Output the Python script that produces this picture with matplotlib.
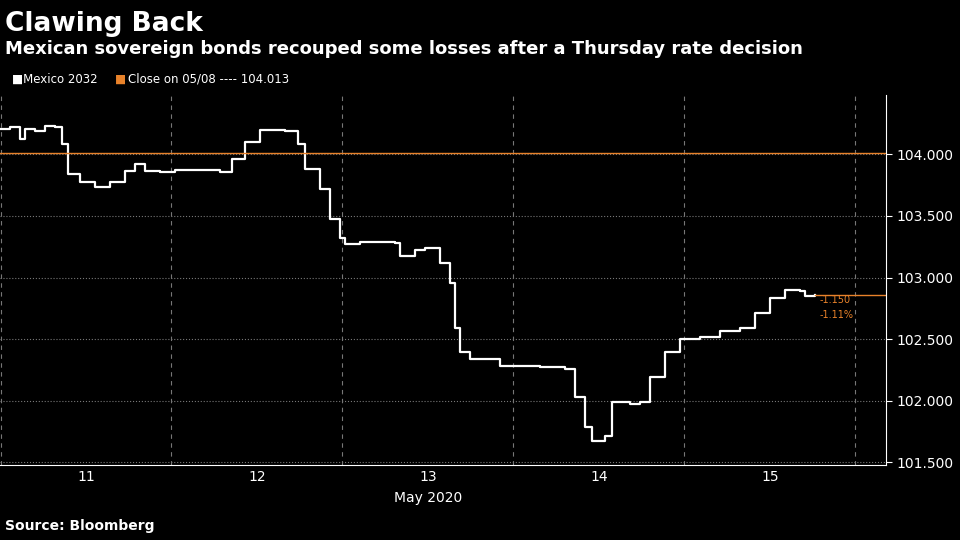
import matplotlib
matplotlib.use("Agg")
import matplotlib.pyplot as plt

# pixel-estimated trace -> converted to (day, price)
px = [0,10,20,25,35,45,55,62,68,80,95,110,125,135,145,160,175,200,220,232,245,260,285,298,305,320,330,340,345,360,395,400,415,425,440,450,455,460,470,500,540,565,575,585,592,605,612,630,640,650,665,680,700,720,740,755,770,785,800,805,815]
py = [130,128,140,130,132,127,128,145,175,183,188,183,172,165,172,173,171,171,173,160,143,131,132,145,170,190,220,240,246,244,245,258,252,250,265,285,330,355,362,369,370,372,400,430,445,440,405,407,405,380,355,342,340,333,330,315,300,292,293,298,297]
days = [10.497 + p/171 for p in px]
prices = [104 - (y-155)/124.5 for y in py]
close_price = 104.013
yticks = [101.5, 102.0, 102.5, 103.0, 103.5, 104.0]
xtick_days = [11, 12, 13, 14, 15]

fig = plt.figure(figsize=(9.6,5.4), dpi=100, facecolor="black")
ax = fig.add_axes([0, 0.139, 0.923, 0.685], facecolor="black")
ax.step(days, prices, where="post", color="white", lw=1.6)
ax.axhline(close_price, color="#e8822a", lw=1)
last = prices[-1]
ax.plot([days[-1], 15.68], [last, last], color="#e8822a", lw=1)
ax.text(days[-1]+0.03, last-0.04, "-1.150", color="#e8822a", fontsize=7, va="center")
ax.text(days[-1]+0.03, last-0.16, "-1.11%", color="#e8822a", fontsize=7, va="center")
ax.set_xlim(10.497, 15.68)
ax.set_ylim(101.48, 104.48)
ax.yaxis.tick_right()
ax.set_yticks(yticks)
ax.set_yticklabels([f"{v:.3f}" for v in yticks])
ax.set_xticks(xtick_days)
ax.set_xticklabels([str(d) for d in xtick_days])
ax.set_xticks([10.5+i for i in range(6)], minor=True)
ax.tick_params(colors="white", labelsize=10, length=4)
ax.tick_params(axis="x", which="both", length=0)
ax.grid(axis="y", color="#777777", ls=":", lw=0.8)
ax.grid(axis="x", which="minor", color="#777777", ls=(0,(4,4)), lw=0.8)
for s in ["top","left"]:
    ax.spines[s].set_visible(False)
ax.spines["right"].set_color("white")
ax.spines["bottom"].set_color("white")
ax.text(13.0, -0.1, "May 2020", transform=ax.get_xaxis_transform(), color="white", ha="center", fontsize=10)

fig.text(0.005, 0.955, "Clawing Back", color="white", fontsize=19, fontweight="bold", va="center")
fig.text(0.005, 0.91, "Mexican sovereign bonds recouped some losses after a Thursday rate decision", color="white", fontsize=13, fontweight="bold", va="center")
fig.text(0.012, 0.853, "■Mexico 2032", color="white", fontsize=8.5, va="center")
fig.text(0.12, 0.853, "■", color="#e8822a", fontsize=8.5, va="center")
fig.text(0.133, 0.853, "Close on 05/08 ---- 104.013", color="white", fontsize=8.5, va="center")
fig.text(0.005, 0.018, "Source: Bloomberg", color="white", fontsize=10, fontweight="bold")
fig.savefig("out.png", facecolor="black")
